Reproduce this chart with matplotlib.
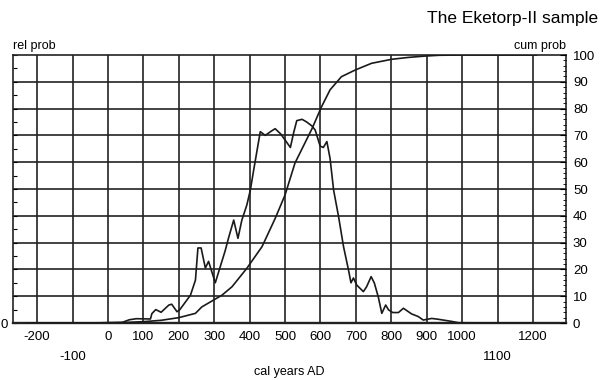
import numpy as np
import matplotlib.pyplot as plt
from matplotlib.ticker import MultipleLocator

plt.rcParams['font.family'] = ['Liberation Sans', 'DejaVu Sans']

# relative probability of the calibrated dates
rel_years = [-230, -150, -50, 40, 60, 80, 120, 124, 135, 150, 172, 180, 195, 203,
             233, 247, 254, 263, 275, 284, 303, 317, 331, 341, 355, 367, 378,
             392, 402, 410, 430, 444, 460, 472, 488, 515, 524, 533, 548, 561,
             576, 585, 599, 608, 618, 627, 637, 651, 665, 679, 686, 693, 702,
             721, 730, 743, 752, 763, 773, 784, 792, 804, 820, 834, 857, 876,
             890, 914, 932, 970, 990, 1050, 1210]
rel_prob = [0.0, 0.0, 0.0, 0.2, 1.2, 1.6, 1.5, 3.5, 5.0, 4.0, 6.7, 7.0, 4.2, 5.0,
            10.4, 16.0, 28.0, 28.0, 20.5, 23.0, 15.0, 21.0, 27.0, 32.0, 38.4,
            31.6, 38.4, 44.0, 49.6, 56.0, 71.4, 70.0, 71.5, 72.5, 70.5, 65.5,
            70.9, 75.5, 76.0, 75.0, 73.5, 72.0, 66.0, 65.5, 67.7, 61.4, 49.6,
            39.7, 28.5, 19.8, 15.0, 16.8, 14.2, 11.7, 13.5, 17.3, 14.9, 9.8,
            3.6, 6.7, 4.9, 3.9, 3.9, 5.5, 3.4, 2.4, 1.1, 1.7, 1.4, 0.6, 0.1,
            0.0, 0.0]

# cumulative probability
cum_years = [-230, -100, 0, 50, 100, 150, 200, 247, 265, 322, 350, 392, 435,
             472, 500, 528, 576, 603, 627, 659, 698, 744, 801, 848, 895, 935,
             1000, 1210]
cum_prob = [0.0, 0.0, 0.1, 0.2, 0.5, 1.0, 2.0, 3.6, 6.0, 10.4, 13.5, 20.4,
            28.5, 39.0, 47.8, 59.7, 72.5, 80.7, 87.0, 91.9, 94.4, 96.9, 98.4,
            99.1, 99.6, 99.9, 100.0, 100.0]

year_ticks = [-200, -100, 0, 100, 200, 300, 400, 500, 600, 700, 800, 900, 1000, 1100, 1200]
low_ticks = [-100, 1100]

fig = plt.figure(figsize=(6.01, 3.80), dpi=100)
ax = fig.add_axes([13 / 601, 1 - 323 / 380, 553 / 601, 268 / 380])

ax.set_xlim(-268, 1293)
ax.set_ylim(0, 100)

for x in year_ticks:
    ax.axvline(x, color='#222222', lw=1.2, zorder=1)
for y in range(10, 100, 10):
    ax.axhline(y, color='#222222', lw=1.2, zorder=1)

ax.plot(rel_years, rel_prob, color='#1a1a1a', lw=1.2, zorder=3)
ax.plot(cum_years, cum_prob, color='#1a1a1a', lw=1.2, zorder=3)

for s in ax.spines.values():
    s.set_color('#222222')
    s.set_linewidth(1.2)
ax.spines['bottom'].set_linewidth(1.7)

ax.set_xticks(year_ticks)
ax.set_xticklabels([str(v) for v in year_ticks], fontsize=9.5)
ax.tick_params(axis='x', length=0, pad=6)
for tick, v in zip(ax.xaxis.get_major_ticks(), year_ticks):
    if v in low_ticks:
        tick.set_pad(20)

# left axis: only zero labelled, small ticks every 5
ax.set_yticks([0])
ax.set_yticklabels(['0'], fontsize=9.5)
ax.yaxis.set_minor_locator(MultipleLocator(5))
ax.tick_params(axis='y', which='both', direction='in', length=3, width=0.8, pad=4)

# right axis: cumulative probability scale
axr = ax.twinx()
axr.set_ylim(0, 100)
axr.set_yticks(np.arange(0, 101, 10))
axr.yaxis.set_minor_locator(MultipleLocator(2))
axr.tick_params(axis='y', which='major', direction='in', length=4, width=0.8, pad=5, labelsize=9.5)
axr.tick_params(axis='y', which='minor', direction='in', length=2.5, width=0.6)
for s in axr.spines.values():
    s.set_visible(False)

ax.text(0, 1.01, 'rel prob', transform=ax.transAxes, ha='left', va='bottom', fontsize=9)
ax.text(1, 1.01, 'cum prob', transform=ax.transAxes, ha='right', va='bottom', fontsize=9)
fig.text(ax.get_position().x0 + ax.get_position().width / 2, 1 - 372 / 380,
         'cal years AD', ha='center', va='center', fontsize=9)
fig.text(598 / 601, 1 - 18 / 380, 'The Eketorp-II sample', ha='right', va='center', fontsize=12.5)

fig.savefig('out.png', dpi=100)
